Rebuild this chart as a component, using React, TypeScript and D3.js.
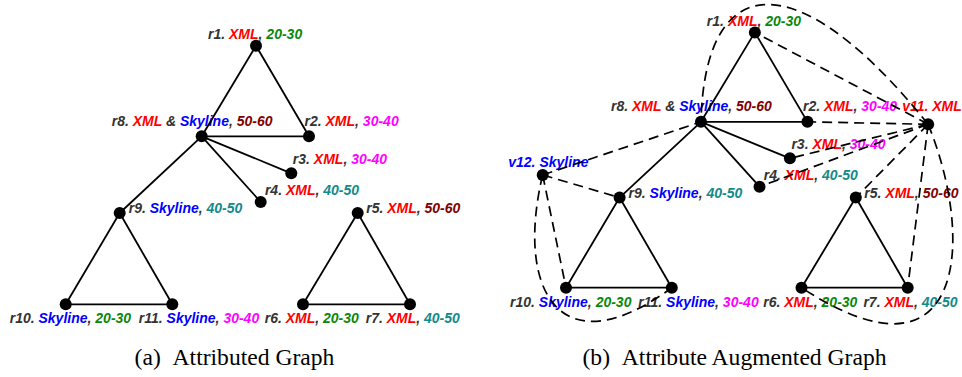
import React from "react";
import * as d3 from "d3";

// graph data: nodes r1..r11 with their keyword and age range, plus attribute nodes
const nodeIds = ["r1", "r2", "r3", "r4", "r5", "r6", "r7", "r8", "r9", "r10", "r11"];
const nodeKeywords = [["XML"], ["XML"], ["XML"], ["XML"], ["XML"], ["XML"], ["XML"], ["XML", "Skyline"], ["Skyline"], ["Skyline"], ["Skyline"]];
const nodeRanges = ["20-30", "30-40", "30-40", "40-50", "50-60", "20-30", "40-50", "50-60", "40-50", "20-30", "30-40"];
// layout units (same frame for both panels)
const layoutX = [256, 309, 291.3, 260.7, 357.7, 303, 410, 201.7, 119.7, 65.7, 172.3];
const layoutY = [45.7, 136.3, 173.3, 202, 213, 304.3, 304.3, 136.3, 213, 304.3, 304.3];

const attrIds = ["v11", "v12"];
const attrKeywords = ["XML", "Skyline"];
const attrX = [430.6, 42.2];
const attrY = [138.8, 190.1];

const edges = [
  ["r1", "r8"], ["r1", "r2"], ["r8", "r2"], ["r8", "r3"], ["r8", "r4"], ["r8", "r9"],
  ["r9", "r10"], ["r9", "r11"], ["r10", "r11"], ["r5", "r6"], ["r5", "r7"], ["r6", "r7"],
];
const attrEdges = [
  ["v11", "r1"], ["v11", "r2"], ["v11", "r3"], ["v11", "r4"], ["v11", "r5"], ["v11", "r7"],
  ["v11", "r8"], ["v11", "r6"],
  ["v12", "r8"], ["v12", "r9"], ["v12", "r10"], ["v12", "r11"],
];

const captions = ["(a)\u00a0\u00a0Attributed Graph", "(b)\u00a0\u00a0Attribute Augmented Graph"];

const W = 962;
const H = 377;

const colors: Record<string, string> = {
  XML: "#ff0000",
  Skyline: "#0000ff",
  "20-30": "#0a880a",
  "30-40": "#ff00ff",
  "40-50": "#138a8a",
  "50-60": "#800000",
  text: "#333333",
};

// where each label starts relative to its node
const labelOff: Record<string, [number, number]> = {
  r1: [-48, -6.5], r2: [-4.5, -10.5], r3: [1.5, -9], r4: [4.2, -7], r5: [8.5, 0.3],
  r6: [-38.3, 19], r7: [-44.3, 19], r8: [-90, -10.5], r9: [9, 0.3], r10: [-56, 19],
  r11: [-33.5, 19], v11: [-26, -13.6], v12: [-34.4, -8.3],
};

// guides for the bent dashed edges (layout units)
const bends: Record<string, [number, number, number, number]> = {
  "v11-r8": [301.8, -22.6, 205.9, -22.6],
  "v11-r6": [478.3, 256.1, 468.2, 412.9],
  "v12-r11": [14.3, 306.6, 59.6, 387.6],
};

type P = { x: number; y: number };

const Label = ({ id, kws, range, p }: { id: string; kws: string[]; range?: string; p: P }) => {
  const [dx, dy] = labelOff[id];
  const parts: [string, string][] = [];
  if (id.startsWith("v")) {
    parts.push([`${id}. ${kws[0]}`, colors[kws[0]]]);
  } else {
    parts.push([`${id}. `, colors.text]);
    kws.forEach((k, i) => {
      if (i > 0) parts.push([" & ", colors.text]);
      parts.push([k, colors[k]]);
    });
    parts.push([", ", colors.text]);
    parts.push([range!, colors[range!]]);
  }
  return (
    <text x={p.x + dx} y={p.y + dy} fontSize={14} fontWeight="bold" fontStyle="italic"
      fontFamily="'Liberation Sans', Arial, sans-serif" style={{ whiteSpace: "pre" }}>
      {parts.map((s, i) => (
        <tspan key={i} fill={s[1]}>{s[0]}</tspan>
      ))}
    </text>
  );
};

const Panel = ({ sx, sy, augmented, caption, cx }: any) => {
  const pos: Record<string, P> = {};
  nodeIds.forEach((id, i) => (pos[id] = { x: sx(layoutX[i]), y: sy(layoutY[i]) }));
  if (augmented) attrIds.forEach((id, i) => (pos[id] = { x: sx(attrX[i]), y: sy(attrY[i]) }));

  const dashPath = (a: string, b: string) => {
    const p = d3.path();
    p.moveTo(pos[a].x, pos[a].y);
    const bend = bends[`${a}-${b}`];
    if (bend) {
      p.bezierCurveTo(sx(bend[0]), sy(bend[1]), sx(bend[2]), sy(bend[3]), pos[b].x, pos[b].y);
    } else {
      p.lineTo(pos[b].x, pos[b].y);
    }
    return p.toString();
  };

  return (
    <g>
      {nodeIds.map((id, i) => (
        <Label key={id} id={id} kws={nodeKeywords[i]} range={nodeRanges[i]} p={pos[id]} />
      ))}
      {augmented && attrIds.map((id, i) => (
        <Label key={id} id={id} kws={[attrKeywords[i]]} p={pos[id]} />
      ))}
      {edges.map(([a, b]) => (
        <line key={a + b} x1={pos[a].x} y1={pos[a].y} x2={pos[b].x} y2={pos[b].y} stroke="#000" strokeWidth={1.8} />
      ))}
      {augmented && attrEdges.map(([a, b]) => (
        <path key={a + b} d={dashPath(a, b)} fill="none" stroke="#000" strokeWidth={1.7} strokeDasharray="10,6" />
      ))}
      {Object.keys(pos).map((id) => (
        <circle key={id} cx={pos[id].x} cy={pos[id].y} r={6} fill="#000" />
      ))}
      <text x={cx} y={365} textAnchor="middle" fontSize={23.6} fill="#000"
        fontFamily="'Liberation Serif', 'Times New Roman', serif">{caption}</text>
    </g>
  );
};

export default function App() {
  const sxA = d3.scaleLinear().domain([0, 1]).range([0, 1]);
  const syA = d3.scaleLinear().domain([0, 1]).range([0, 1]);
  const sxB = d3.scaleLinear().domain([65.7, 410]).range([566, 907.7]);
  const syB = d3.scaleLinear().domain([45, 304.3]).range([31.7, 287.7]);
  return (
    <svg width={W} height={H} style={{ position: "absolute", left: 0, top: 0, background: "#fff" }}>
      <Panel sx={sxA} sy={syA} augmented={false} caption={captions[0]} cx={234.5} />
      <Panel sx={sxB} sy={syB} augmented={true} caption={captions[1]} cx={734.5} />
    </svg>
  );
}
